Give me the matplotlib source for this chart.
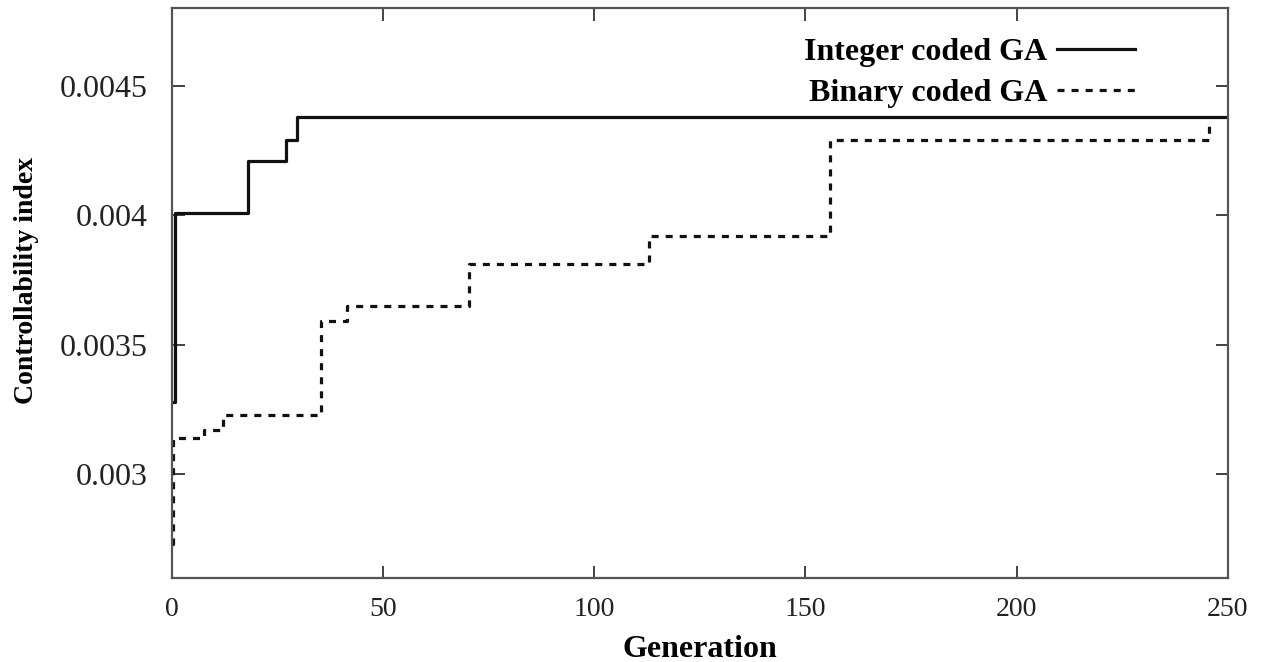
import numpy as np
import matplotlib
matplotlib.use('Agg')
import matplotlib.pyplot as plt
from matplotlib import ticker

plt.rcParams['font.family'] = ['Liberation Serif', 'DejaVu Serif']

# Best-so-far controllability index, step changes per generation
INT_GEN = [0, 0.8, 18, 27, 29.5, 250]
INT_VAL = [0.00328, 0.00401, 0.00421, 0.00429, 0.00438, 0.00438]

BIN_GEN = [0, 0.3, 7.5, 12, 35.3, 41.5, 70.3, 113, 155.8, 245.6]
BIN_VAL = [0.00273, 0.00314, 0.00317, 0.00323, 0.00359, 0.00365,
           0.00381, 0.00392, 0.00429, 0.00436]

X_TICKS = [0, 50, 100, 150, 200, 250]
Y_TICKS = [0.003, 0.0035, 0.004, 0.0045]

fig = plt.figure(figsize=(12.69, 6.62), dpi=100)
ax = fig.add_axes([0.1355, 0.127, 0.832, 0.861])

ax.step(INT_GEN, INT_VAL, where='post', color='#111111', lw=2.3,
        label='Integer coded GA')
ax.step(BIN_GEN, BIN_VAL, where='post', color='#111111', lw=2.3,
        dashes=(2.2, 2.2), label='Binary coded GA')

ax.set_xlim(0, 250)
ax.set_ylim(0.0026, 0.0048)
ax.set_xticks(X_TICKS)
ax.set_yticks(Y_TICKS)
ax.yaxis.set_major_formatter(ticker.FuncFormatter(lambda v, p: f'{v:g}'))
ax.tick_params(direction='in', length=9, width=1.2, top=True, right=True,
               colors='#222222')
ax.tick_params(axis='x', labelsize=20, pad=14)
ax.tick_params(axis='y', labelsize=23, pad=17.5)
for s in ax.spines.values():
    s.set_color('#555555')
    s.set_linewidth(1.6)

ax.set_xlabel('Generation', fontsize=23, fontweight='bold', labelpad=9)
ax.set_ylabel('Controllability index', fontsize=20, fontweight='bold')
ax.yaxis.set_label_coords(-0.126, 0.521)

leg = ax.legend(loc='upper right', bbox_to_anchor=(0.912, 0.948), frameon=False,
                markerfirst=False, handlelength=2.45, handletextpad=0.3,
                labelspacing=0.36, borderpad=0, borderaxespad=0,
                prop={'weight': 'bold', 'size': 23})

fig.savefig('out.png', dpi=100, facecolor='white')
